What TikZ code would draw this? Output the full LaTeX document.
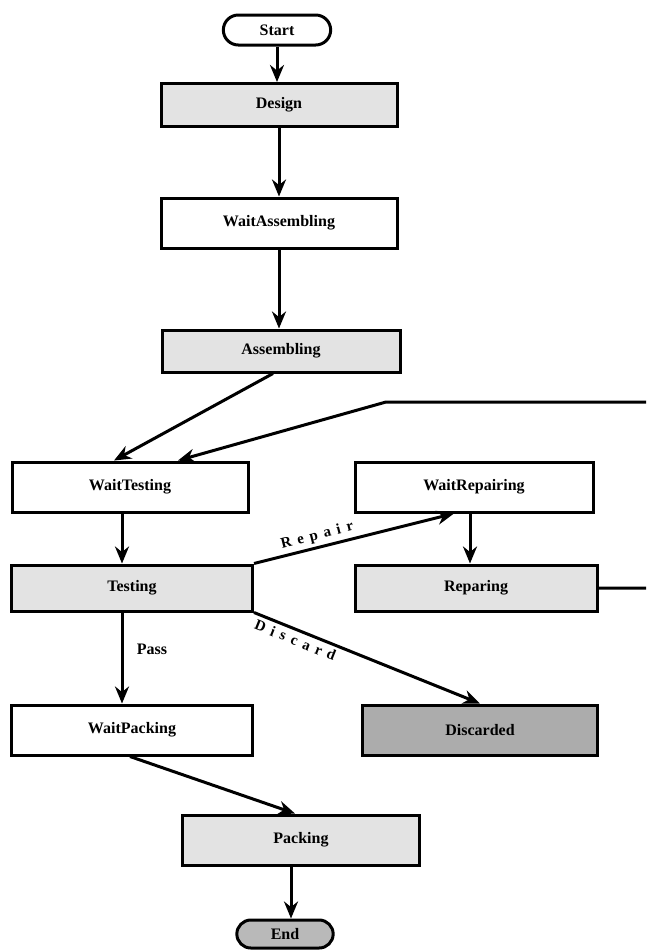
\documentclass[tikz,border=0pt]{standalone}
\usepackage{fontspec}
\setmainfont{Liberation Serif}
\usetikzlibrary{positioning, arrows.meta, shapes.misc}

\begin{document}
\begin{tikzpicture}[
    x=1pt, y=-1pt,
    state/.style={rectangle, draw, line width=3pt, minimum width=236pt, minimum height=46pt, font=\bfseries\fontsize{16}{18}\selectfont},
    busy/.style={state, fill=gray!22},
    dead/.style={state, fill=gray!65},
    term/.style={rounded rectangle, draw, line width=3pt, minimum height=30pt, font=\bfseries\fontsize{16}{18}\selectfont},
    arrow/.style={-{Stealth[length=17pt, width=14pt]}, line width=3pt},
    label/.style={font=\bfseries\fontsize{15}{17}\selectfont\addfontfeature{LetterSpace=40}}
]
\useasboundingbox (0,0) rectangle (646,951);

% Main line
\node[term, minimum width=114pt] (Start) at (277,30) {Start};
\node[busy, minimum height=43pt] (Design) at (279,105) {Design};
\node[state, minimum height=50pt] (WaitAssembling) at (279,223) {WaitAssembling};
\node[busy, minimum width=238pt, minimum height=42pt] (Assembling) at (281,351) {Assembling};

% Test loop
\node[state, minimum height=50pt] (WaitTesting) at (130,487) {WaitTesting};
\node[busy, minimum width=241pt] (Testing) at (132,588) {Testing};
\node[state, minimum width=238pt, minimum height=50pt] (WaitRepairing) at (474,487) {WaitRepairing};
\node[busy, minimum width=242pt] (Reparing) at (476,588) {Reparing};

% Outcomes
\node[state, minimum width=241pt, minimum height=50pt] (WaitPacking) at (132,730) {WaitPacking};
\node[dead, minimum width=235pt, minimum height=50pt] (Discarded) at (480,730) {Discarded};
\node[busy, minimum width=237pt, minimum height=50pt] (Packing) at (301,840) {Packing};
\node[term, fill=gray!55, minimum width=103pt, minimum height=28pt] (End) at (285,934) {End};

% Feedback line, runs off the page
\coordinate (fbOut) at (646,588);
\coordinate (fbIn) at (646,402);
\coordinate (fbBend) at (386,402);

\draw[arrow] (Start.south) -- (Start.south |- Design.north);
\draw[arrow] (Design.south) -- (Design.south |- WaitAssembling.north);
\draw[arrow] (WaitAssembling.south) -- (WaitAssembling.south |- Assembling.north);
\draw[arrow] ([xshift=-8pt]Assembling.south) -- ([xshift=-16pt]WaitTesting.north);
\draw[arrow] (Reparing.east) -- (fbOut) (fbIn) -- (fbBend) -- ([xshift=48pt]WaitTesting.north);
\draw[arrow] ([xshift=-8pt]WaitTesting.south) -- ([xshift=-8pt]WaitTesting.south |- Testing.north);
\draw[arrow] (Testing.north east) -- node[label, above, sloped, pos=0.33] {Repair} ([xshift=-20pt]WaitRepairing.south);
\draw[arrow] ([xshift=-4pt]WaitRepairing.south) -- ([xshift=-4pt]WaitRepairing.south |- Reparing.north);
\draw[arrow] ([xshift=-10pt]Testing.south) -- node[right=10pt, pos=0.4, font=\bfseries\fontsize{16}{18}\selectfont] {Pass} ([xshift=-10pt]Testing.south |- WaitPacking.north);
\draw[arrow] (Testing.south east) -- node[label, below, sloped, pos=0.2] {Discard} (Discarded.north);
\draw[arrow] ([xshift=-2pt]WaitPacking.south) -- ([xshift=-6pt]Packing.north);
\draw[arrow] ([xshift=-10pt]Packing.south) -- ([xshift=-10pt]Packing.south |- End.north);

\end{tikzpicture}
\end{document}
